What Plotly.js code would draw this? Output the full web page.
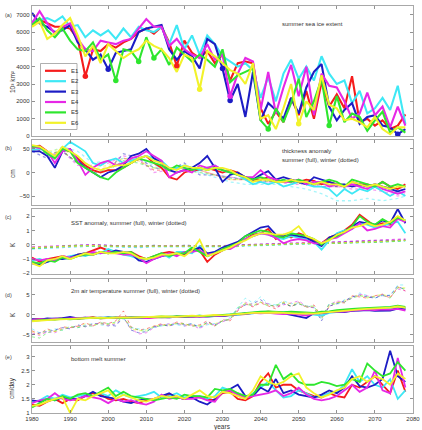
<!DOCTYPE html>
<html>
<head>
<meta charset="utf-8">
<script src="https://cdn.plot.ly/plotly-3.0.1.min.js"></script>
<style>
  html, body { margin: 0; padding: 0; background: #fff; }
  #chart { width: 422px; height: 430px; }
</style>
</head>
<body>
<div id="chart"></div>
<script>
// Ensemble members E1..E6, summer values every second year 1980-2078
const years = Array.from({length: 50}, (_, i) => 1980 + 2 * i);
// winter (dotted) curves of thickness and SST, every fourth year
const winterYears = [...Array.from({length: 25}, (_, i) => 1980 + 4 * i), 2078];

const members = ['E1', 'E2', 'E3', 'E4', 'E5', 'E6'];
const colors = ['#f51c1c', '#3ee8f5', '#1c1cc4', '#e628e6', '#2ee62e', '#f2f22a'];

// (a) summer sea ice extent, 10^3 km^2
const ice1 = [6400, 6700, 6500, 6300, 6300, 6200, 5600, 3450, 5000, 4900, 5300, 5100, 5400, 5600, 6000, 6200, 5900, 6300, 5400, 4050, 5500, 4800, 4500, 4900, 4200, 4700, 3200, 4200, 4300, 4200, 1600, 700, 1400, 800, 2200, 1200, 2600, 1000, 3100, 1700, 2400, 1600, 3450, 800, 1000, 600, 900, 400, 600, 1250];
const ice2 = [6600, 6700, 6800, 6600, 6900, 6300, 6400, 5700, 6100, 5800, 6100, 5600, 6200, 5700, 6300, 6100, 6000, 6300, 5300, 6400, 5000, 5800, 4700, 5800, 5300, 4600, 4300, 4000, 4200, 3800, 2200, 3400, 2000, 3600, 4400, 3300, 4000, 3200, 4600, 3600, 3000, 3200, 1900, 2600, 1300, 1600, 2200, 1500, 2900, 700];
const ice3 = [7100, 6500, 6300, 6000, 6100, 6400, 5400, 5000, 4400, 4700, 3850, 4800, 4900, 5000, 6000, 6200, 6300, 6400, 5000, 4400, 4900, 4600, 3900, 5600, 5300, 3900, 2050, 3000, 1100, 3700, 900, 1900, 1500, 1000, 2200, 1300, 2800, 3700, 4150, 1700, 900, 1500, 1900, 700, 1100, 1200, 600, 500, 100, 400];
const ice4 = [6500, 7200, 6500, 5900, 6300, 6500, 5600, 5000, 4900, 5500, 5400, 5300, 5500, 5600, 6200, 6750, 6300, 6300, 5200, 5600, 5000, 4700, 4500, 5300, 4400, 4700, 2300, 3600, 4500, 4300, 1500, 3700, 1300, 2800, 4100, 2300, 4000, 1200, 3600, 2900, 2800, 2000, 1000, 1300, 2500, 1200, 1700, 500, 1700, 600];
const ice5 = [6400, 6800, 6100, 5700, 6200, 5500, 5000, 4900, 5400, 4400, 4700, 3200, 5000, 4900, 4300, 5700, 4500, 5000, 4100, 5100, 4700, 4300, 4700, 4400, 4000, 5000, 3100, 3500, 3700, 3900, 900, 400, 1600, 800, 1900, 3300, 1100, 2000, 3300, 600, 2300, 800, 1300, 1100, 300, 900, 1400, 200, 500, 200];
const ice6 = [6300, 6600, 5600, 5900, 6400, 6800, 5800, 4600, 5200, 4200, 5300, 4900, 4500, 4800, 5000, 5500, 5200, 5000, 4500, 3700, 4700, 4500, 2700, 4900, 4600, 4200, 3800, 3600, 3000, 4200, 1000, 1200, 400, 1600, 3000, 700, 2000, 1500, 3500, 1800, 1600, 900, 1000, 800, 500, 1100, 400, 100, 500, 500];
// years of new record minima, marked with dots
const recordYears = [[1994, 2018], [], [2000, 2030, 2032, 2076], [2032], [2002, 2008, 2012, 2042, 2058], [2024, 2050]];

// (b) thickness anomaly, cm
const thk1 = [55, 57, 45, 30, 50, 45, 30, 15, 5, 0, 5, 5, 10, 20, 30, 35, 20, 10, -10, -15, 0, 5, 5, 10, 5, 0, 5, 0, -10, -15, -15, -10, -15, -20, -15, -20, -15, -18, -25, -20, -25, -30, -20, -25, -25, -30, -20, -30, -35, -25];
const thk2 = [48, 50, 45, 30, 50, 65, 55, 45, 20, 15, 25, 30, 20, 25, 30, 35, 30, 25, 10, 10, 15, 10, 5, 10, 15, 5, 0, -5, -15, -25, -20, -25, -20, -30, -25, -20, -25, -30, -30, -35, -50, -35, -45, -35, -40, -30, -40, -50, -40, -50];
const thk3 = [45, 45, 35, 10, 45, 50, 25, 10, 0, -10, 0, 5, 15, 35, 40, 50, 30, 20, 5, 0, 5, 10, 20, 35, 10, -20, -5, 0, -10, -15, -5, 3, -15, -10, -15, -20, -25, -10, -15, -20, -25, -25, -30, -25, -30, -25, -30, -35, -40, -35];
const thk4 = [55, 52, 45, 20, 45, 50, 25, -5, 10, 20, 25, 15, 20, 30, 35, 45, 35, 25, -10, 0, 5, 0, 15, 10, 15, 5, 0, -5, -10, -10, 5, -10, -15, -20, -20, -15, -25, -20, -20, -30, -25, -30, -25, -30, -35, -25, -35, -40, -45, -40];
const thk5 = [55, 55, 40, 30, 50, 45, 20, 10, 0, -10, -15, 0, 10, 20, 30, 25, 20, 15, 5, 15, 10, 5, 10, 5, 10, 5, 0, -5, -10, -15, -10, -15, -20, -15, -20, -15, -20, -25, -20, -15, -20, -30, -15, -20, -25, -30, -20, -30, -25, -30];
const thk6 = [58, 55, 45, 35, 55, 45, 35, 20, 10, 5, 10, 15, 15, 20, 30, 35, 25, 20, 10, 5, 15, 10, 10, 5, 10, 10, 5, -5, -10, -20, -15, -15, -20, -20, -15, -20, -20, -25, -20, -25, -25, -30, -20, -25, -30, -25, -30, -35, -30, -30];
const thkW1 = [55, 40, 45, 20, 5, 10, 30, 25, 5, 5, 10, 5, -5, -15, -15, -15, -20, -20, -25, -25, -30, -25, -30, -30, -35, -30];
const thkW2 = [50, 40, 55, 45, 20, 25, 30, 30, 15, 10, 10, 0, -10, -20, -25, -25, -25, -30, -35, -45, -60, -60, -55, -60, -55, -50];
const thkW3 = [45, 30, 45, 20, 0, 5, 40, 30, 10, 5, 20, -5, -5, -10, -15, -20, -20, -20, -25, -30, -30, -30, -30, -35, -40, -35];
const thkW4 = [55, 35, 45, 15, 15, 20, 35, 30, 0, 5, 10, 5, -5, -10, -15, -20, -20, -25, -25, -30, -30, -35, -35, -40, -50, -45];
const thkW5 = [55, 40, 45, 20, 0, 5, 25, 20, 10, 8, 5, 0, -5, -12, -15, -18, -18, -20, -20, -25, -25, -25, -25, -30, -30, -30];
const thkW6 = [58, 45, 50, 30, 10, 15, 30, 25, 10, 8, 8, 5, -5, -15, -15, -18, -20, -22, -22, -25, -28, -28, -30, -32, -30, -30];

// (c) SST anomaly, K
const sst1 = [-0.9, -1.2, -1.0, -0.9, -0.8, -0.9, -0.7, -0.6, -0.4, -0.2, -0.4, -0.5, -0.6, -0.5, -0.8, -1.0, -0.8, -0.6, -0.5, -0.6, -0.7, -0.3, -0.4, -1.2, -0.7, -0.4, -0.1, 0.1, 0.4, 0.7, 0.8, 1.1, 0.4, 0.7, 0.5, 0.8, 0.6, 0.3, 0.1, 0.5, 0.7, 1.0, 1.4, 2.1, 1.7, 1.3, 1.5, 1.4, 1.9, 1.6];
const sst2 = [-1.1, -1.0, -1.2, -1.1, -0.9, -0.8, -0.7, -0.8, -0.6, -0.6, -0.3, -0.5, -0.7, -0.8, -1.0, -1.0, -0.9, -0.6, -0.9, -0.5, -0.5, -0.6, -0.1, -0.7, -0.5, -0.4, -0.2, 0.0, 0.4, 0.6, 0.8, 0.7, 0.5, 0.4, 0.6, 0.5, 0.4, 0.2, -0.35, 0.3, 0.8, 1.0, 1.1, 1.5, 1.4, 1.2, 1.3, 1.5, 1.6, 0.8];
const sst3 = [-1.3, -1.4, -1.2, -1.0, -1.0, -0.9, -0.7, -0.6, -0.7, -0.5, -0.6, -0.4, -0.5, -0.6, -1.1, -1.2, -1.0, -0.8, -0.7, -0.7, -0.6, -0.4, -0.2, -0.6, -0.5, -0.2, 0.0, 0.2, 0.6, 0.9, 1.2, 1.3, 0.7, 0.6, 0.7, 0.6, 0.5, 0.2, -0.1, 0.5, 0.7, 0.9, 1.3, 1.6, 1.5, 1.4, 1.7, 1.5, 2.5, 1.5];
const sst4 = [-1.0, -1.1, -1.0, -1.1, -0.8, -0.9, -0.8, -0.7, -0.5, -0.6, -0.5, -0.6, -0.7, -0.7, -0.9, -1.3, -1.0, -0.8, -0.6, -0.8, -0.5, -0.5, -0.4, -0.7, -0.6, -0.3, -0.3, 0.0, 0.4, 0.6, 0.8, 0.7, 0.5, 0.1, 0.3, 0.4, 0.3, 0.1, 0.1, 0.4, 0.5, 0.8, 1.1, 1.5, 1.0, 1.1, 1.3, 1.2, 1.8, 1.6];
const sst5 = [-1.2, -1.3, -1.1, -1.2, -0.9, -1.0, -0.8, -0.7, -0.7, -0.5, -0.6, -0.5, -0.6, -0.5, -0.9, -1.0, -0.8, -0.6, -0.8, -0.6, -0.6, -0.2, -0.5, -0.8, -0.6, -0.3, -0.1, 0.1, 0.6, 0.8, 1.0, 0.9, 0.6, 0.5, 0.8, 0.7, 0.6, 0.4, 0.0, 0.4, 0.6, 0.9, 1.3, 2.0, 1.6, 1.4, 1.8, 1.5, 1.9, 1.7];
const sst6 = [-1.3, -1.5, -1.1, -1.0, -0.8, -1.0, -0.8, -0.6, -0.7, -0.5, -0.6, -0.6, -0.5, -0.6, -0.9, -1.0, -0.9, -0.7, -0.7, -0.6, -0.8, -0.4, 0.35, -0.8, -0.6, -0.4, -0.2, 0.1, 0.3, 0.6, 0.8, 0.8, 0.7, 0.7, 0.9, 1.3, 0.6, 0.4, 0.1, 0.3, 0.7, 0.9, 1.2, 1.3, 1.5, 1.3, 1.4, 1.6, 2.0, 1.7];
const sstW1 = [-0.25, -0.2, -0.1, -0.05, -0.05, -0.1, -0.15, -0.15, -0.1, -0.1, -0.1, -0.15, -0.15, -0.1, -0.05, 0.0, 0.0, 0.05, 0.1, 0.1, 0.12, 0.15, 0.2, 0.22, 0.3, 0.3];
const sstW2 = [-0.3, -0.25, -0.15, -0.1, -0.1, -0.15, -0.2, -0.2, -0.15, -0.15, -0.15, -0.2, -0.2, -0.15, -0.1, -0.05, 0.0, 0.05, 0.05, 0.1, 0.1, 0.1, 0.15, 0.2, 0.25, 0.25];
const sstW3 = [-0.2, -0.15, -0.05, 0.0, 0.0, -0.05, -0.1, -0.1, -0.05, -0.1, -0.05, -0.1, -0.1, -0.05, 0.0, 0.0, 0.05, 0.1, 0.1, 0.15, 0.15, 0.2, 0.25, 0.3, 0.3, 0.35];
const sstW4 = [-0.15, -0.1, -0.05, 0.0, 0.0, -0.05, -0.1, -0.1, -0.1, -0.05, -0.1, -0.1, -0.1, -0.05, 0.0, 0.05, 0.05, 0.1, 0.15, 0.15, 0.2, 0.25, 0.3, 0.35, 0.4, 0.4];
const sstW5 = [-0.25, -0.2, -0.1, -0.05, -0.1, -0.1, -0.15, -0.15, -0.15, -0.1, -0.1, -0.15, -0.15, -0.1, -0.05, -0.05, 0.0, 0.05, 0.05, 0.1, 0.1, 0.15, 0.15, 0.2, 0.25, 0.3];
const sstW6 = [-0.2, -0.15, -0.1, -0.05, -0.05, -0.1, -0.1, -0.15, -0.1, -0.1, -0.1, -0.1, -0.15, -0.1, -0.05, 0.0, 0.0, 0.05, 0.1, 0.1, 0.1, 0.15, 0.2, 0.25, 0.3, 0.3];

// (d) 2m air temperature anomaly, K
const t2m1 = [-1.2, -1.0, -1.0, -1.1, -0.9, -0.8, -1.0, -0.8, -0.6, -0.9, -0.8, -0.7, -0.6, -0.8, -0.7, -0.8, -0.6, -0.6, -0.5, -0.4, -0.4, -0.5, -0.3, -0.4, -0.2, -0.2, 0.0, 0.1, 0.2, 0.5, 0.6, 0.8, 0.7, 0.5, 0.6, 0.5, 0.4, 0.2, 0.5, 0.6, 0.8, 1.0, 1.1, 1.2, 1.4, 1.5, 1.4, 1.6, 1.8, 1.6];
const t2m2 = [-1.4, -1.2, -1.1, -0.9, -1.0, -0.9, -0.8, -0.9, -0.7, -0.6, -0.7, -0.8, -0.7, -0.6, -0.8, -0.6, -0.5, -0.6, -0.4, -0.5, -0.3, -0.4, -0.2, -0.5, -0.3, -0.1, 0.1, 0.0, 0.3, 0.4, 0.7, 0.6, 0.5, 0.6, 0.4, 0.5, 0.3, 0.1, -0.2, 0.5, 0.7, 0.9, 1.2, 1.3, 1.5, 1.6, 1.6, 1.7, 2.0, 1.7];
const t2m3 = [-1.1, -1.2, -0.9, -1.0, -0.8, -0.5, -0.9, -0.7, -0.8, -0.8, -0.6, -0.8, -0.7, -0.6, -0.7, -0.7, -0.5, -0.6, -0.6, -0.5, -0.5, -0.3, -0.4, -0.3, -0.2, -0.3, 0.0, 0.2, 0.3, 0.4, 0.6, 0.7, 0.6, 0.4, 0.0, -0.4, -0.8, 0.5, 0.4, 0.7, 0.8, 0.7, 1.0, 1.1, 1.2, 1.0, 1.0, 1.1, 1.6, 1.3];
const t2m4 = [-1.3, -1.1, -1.2, -0.9, -1.0, -0.9, -0.8, -0.7, -0.8, -0.7, -0.8, -0.6, -0.7, -0.7, -0.6, -0.8, -0.6, -0.5, -0.6, -0.4, -0.5, -0.4, -0.3, -0.4, -0.3, -0.2, 0.0, 0.2, 0.3, 0.5, 0.4, 0.5, 0.3, 0.2, 0.3, 0.0, -0.2, 0.3, 0.5, 0.6, 0.9, 0.8, 1.1, 1.2, 1.3, 1.2, 1.4, 1.3, 1.5, 1.1];
const t2m5 = [-1.5, -1.3, -1.2, -1.2, -1.0, -1.1, -0.9, -0.8, -0.7, -0.9, -0.7, -0.6, -0.8, -0.6, -0.6, -0.6, -0.5, -0.4, -0.5, -0.3, -0.4, -0.3, -0.2, -0.3, -0.1, 0.0, 0.1, 0.3, 0.4, 0.6, 0.8, 0.9, 0.8, 0.7, 0.8, 0.7, 0.6, 0.5, 0.8, 0.9, 1.2, 1.4, 1.5, 1.6, 1.7, 1.8, 1.9, 2.0, 2.3, 2.0];
const t2m6 = [-1.6, -1.4, -1.3, -1.2, -1.1, -1.0, -1.0, -0.9, -0.8, -0.7, -0.8, -0.7, -0.6, -0.7, -0.6, -0.5, -0.5, -0.4, -0.4, -0.5, -0.3, -0.2, -0.3, -0.2, 0.0, -0.1, 0.1, 0.2, 0.3, 0.5, 0.5, 0.6, 0.6, 0.5, 0.4, 0.3, 0.4, 0.3, 0.5, 0.7, 0.9, 1.1, 1.3, 1.4, 1.5, 1.6, 1.7, 1.8, 2.1, 1.8];
const t2mW1 = [-4.0, -4.8, -3.5, -4.2, -3.0, -3.2, -2.8, -2.0, -2.8, -1.8, -2.2, -1.5, 1.0, -3.0, -3.8, -3.5, -2.8, -2.2, -2.8, -1.8, -2.2, -2.8, -2.5, -1.5, -2.8, -1.2, -1.5, 1.0, 2.8, 2.0, 3.0, 2.2, 1.5, 3.2, 2.0, 3.2, 1.8, 2.5, -0.5, 2.0, 3.2, 3.0, 4.8, 4.5, 4.2, 4.8, 5.2, 4.2, 7.0, 6.0];
const t2mW2 = [-3.5, -4.5, -4.0, -3.5, -3.8, -2.8, -3.2, -2.5, -2.2, -2.5, -2.8, -2.2, -1.0, -3.2, -3.5, -3.8, -3.2, -2.8, -2.2, -2.5, -2.8, -2.2, -3.0, -2.5, -2.2, -1.8, -0.5, 2.0, 4.2, 3.0, 4.5, 2.8, 2.5, 3.5, 2.8, 3.0, 2.2, 2.0, -1.2, 2.8, 2.5, 3.8, 4.2, 5.5, 4.8, 4.2, 4.8, 5.0, 7.5, 7.5];
const t2mW3 = [-5.0, -4.5, -4.2, -3.8, -3.2, -3.5, -2.5, -3.0, -2.2, -2.2, -2.5, -2.8, -0.5, -3.8, -4.5, -4.2, -3.0, -2.5, -2.8, -2.2, -2.5, -2.2, -3.2, -1.8, -2.5, -1.5, -1.2, 1.5, 2.5, 2.8, 3.8, 2.5, 2.2, 2.8, 2.2, 2.8, 2.0, 1.8, -1.5, 2.2, 2.8, 3.5, 4.5, 5.0, 4.5, 4.2, 5.0, 4.8, 7.2, 6.2];
const t2mW4 = [-4.5, -5.2, -4.2, -4.5, -3.5, -3.2, -3.0, -2.8, -2.5, -2.0, -2.8, -2.2, -0.8, -3.5, -4.8, -4.5, -3.2, -2.5, -2.2, -2.0, -2.8, -2.5, -3.5, -2.2, -2.5, -1.8, -1.0, 1.2, 3.2, 2.2, 3.2, 2.8, 1.8, 2.5, 3.0, 3.5, 2.2, 1.8, -1.0, 2.5, 3.5, 3.2, 4.2, 5.2, 4.8, 4.5, 4.8, 4.5, 6.5, 6.0];
const t2mW5 = [-5.5, -5.8, -4.5, -4.0, -3.8, -3.0, -3.2, -2.8, -2.8, -2.0, -2.2, -1.8, -0.5, -3.2, -3.8, -4.2, -3.0, -2.8, -2.5, -2.2, -2.2, -2.8, -2.8, -2.0, -2.8, -1.5, -1.0, 1.8, 2.8, 2.2, 3.2, 2.2, 2.5, 3.0, 2.2, 2.8, 2.2, 2.2, -0.8, 2.8, 3.0, 3.2, 4.2, 4.8, 4.5, 4.5, 5.0, 4.2, 6.8, 6.5];
const t2mW6 = [-4.2, -5.0, -3.8, -4.2, -3.5, -3.0, -3.0, -2.2, -2.5, -2.2, -2.5, -2.0, -0.5, -3.5, -4.0, -3.8, -2.8, -2.5, -2.5, -2.0, -2.5, -2.5, -2.8, -2.2, -2.2, -1.5, -1.2, 1.2, 3.0, 2.5, 3.2, 2.5, 2.0, 3.2, 2.8, 3.0, 2.0, 2.0, -1.0, 2.2, 3.0, 3.5, 4.5, 5.0, 4.2, 4.8, 5.2, 4.5, 7.0, 6.8];

// (e) summer bottom melt, cm/day
const melt1 = [1.3, 1.25, 1.4, 1.5, 1.35, 1.5, 1.45, 1.6, 1.7, 1.65, 1.5, 1.45, 1.5, 1.4, 1.35, 1.45, 1.5, 1.6, 1.65, 1.55, 1.5, 1.6, 1.55, 1.5, 1.45, 1.7, 1.75, 1.5, 1.45, 1.6, 2.1, 2.4, 1.9, 2.0, 2.0, 1.8, 1.7, 1.6, 1.55, 1.7, 1.6, 1.55, 2.0, 1.9, 2.1, 2.3, 2.0, 1.7, 2.5, 1.75];
const melt2 = [1.4, 1.45, 1.6, 1.5, 1.65, 1.55, 1.6, 1.65, 1.6, 1.7, 1.6, 1.8, 1.65, 1.55, 1.6, 1.65, 1.75, 1.55, 1.6, 1.7, 1.55, 1.6, 1.6, 1.5, 1.6, 1.9, 1.8, 1.7, 1.55, 1.7, 1.9, 2.1, 1.8, 1.55, 1.6, 1.8, 1.7, 1.55, 1.6, 1.7, 1.75, 2.0, 2.55, 2.1, 2.3, 2.0, 1.9, 2.2, 1.5, 1.8];
const melt3 = [1.45, 1.4, 1.5, 1.45, 1.55, 1.5, 1.5, 1.6, 1.75, 1.6, 1.55, 1.5, 1.4, 1.35, 1.45, 1.5, 1.45, 1.6, 1.7, 1.55, 1.5, 1.55, 1.4, 1.3, 1.5, 1.75, 1.85, 2.0, 1.6, 1.6, 1.9, 1.75, 2.2, 1.7, 1.8, 1.65, 1.6, 1.55, 1.65, 1.8, 1.7, 1.9, 2.3, 1.95, 1.9, 2.0, 2.2, 3.2, 2.3, 2.1];
const melt4 = [1.35, 1.45, 1.5, 1.7, 1.5, 1.45, 1.5, 1.6, 1.55, 1.5, 1.35, 1.5, 1.4, 1.45, 1.35, 1.3, 1.4, 1.65, 1.5, 1.55, 1.5, 1.5, 1.55, 1.45, 1.4, 1.75, 1.8, 1.65, 1.55, 1.6, 1.65, 1.7, 1.8, 1.6, 1.7, 1.9, 1.65, 1.5, 1.45, 1.5, 1.6, 1.8, 2.0, 1.75, 1.9, 2.5, 1.8, 1.7, 2.95, 1.9];
const melt5 = [1.2, 1.35, 1.5, 1.45, 1.6, 1.5, 1.65, 1.7, 1.6, 1.75, 1.9, 1.6, 1.75, 1.6, 1.55, 1.5, 1.45, 1.5, 1.55, 1.5, 1.65, 1.6, 1.6, 1.55, 1.85, 1.8, 1.85, 1.7, 1.6, 1.65, 2.0, 2.0, 2.7, 2.2, 2.4, 2.1, 2.0, 2.0, 2.1, 2.05, 1.95, 2.0, 2.2, 2.1, 2.75, 2.5, 2.3, 2.4, 2.8, 2.5];
const melt6 = [1.25, 1.3, 1.4, 1.5, 1.55, 1.0, 1.5, 1.45, 1.6, 1.7, 1.8, 1.5, 1.65, 1.55, 1.45, 1.4, 1.5, 1.6, 1.55, 1.6, 1.5, 1.65, 1.8, 1.6, 1.55, 1.75, 1.7, 1.6, 1.5, 1.8, 2.3, 2.1, 2.0, 2.1, 2.3, 2.4, 1.9, 1.7, 1.55, 1.65, 1.8, 1.9, 2.2, 2.3, 2.1, 2.3, 2.2, 2.0, 2.4, 2.2];

const iceTicks = [0, 1000, 2000, 3000, 4000, 5000, 6000, 7000];
const thkTicks = [-50, 0, 50];
const sstTicks = [-2, -1, 0, 1, 2];
const t2mTicks = [-5, 0, 5];
const meltTicks = [1, 1.5, 2, 2.5, 3];
const yearTicks = [1980, 1990, 2000, 2010, 2020, 2030, 2040, 2050, 2060, 2070, 2080];

// ---- page geometry (pixels) ----
const W = 422, H = 430;
const M = {l: 32, r: 9, t: 6, b: 17};
const plotW = W - M.l - M.r, plotH = H - M.t - M.b;
const px = x => (x - M.l) / plotW;            // pixel -> paper x
const py = y => (H - M.b - y) / plotH;        // pixel -> paper y
// vertical extent of each panel in pixels (top, bottom)
const panelsPx = [[6, 136], [140, 205], [209, 274], [279, 342], [346, 413]];

const FONT = 'Liberation Sans, Arial, Helvetica, sans-serif';
const traces = [];

function axisName(k, letter) { return k === 1 ? letter : letter + k; }

function addLines(k, xs, seriesList, opts) {
  seriesList.forEach((ys, m) => {
    traces.push({
      type: 'scatter', mode: 'lines', x: xs, y: ys,
      xaxis: axisName(k, 'x'), yaxis: axisName(k, 'y'),
      line: Object.assign({color: colors[m], width: 1.8}, opts.line || {}),
      opacity: opts.opacity || 1,
      showlegend: false, hoverinfo: 'skip'
    });
  });
}

const iceSeries = [ice1, ice2, ice3, ice4, ice5, ice6];
addLines(1, years, iceSeries, {line: {width: 2.1}});
// record minima dots
iceSeries.forEach((ys, m) => {
  const xs = recordYears[m];
  if (!xs.length) return;
  traces.push({
    type: 'scatter', mode: 'markers', x: xs, y: xs.map(yr => ys[years.indexOf(yr)]),
    xaxis: 'x', yaxis: 'y', marker: {color: colors[m], size: 5.5},
    showlegend: false, hoverinfo: 'skip'
  });
});

addLines(2, winterYears, [thkW1, thkW2, thkW3, thkW4, thkW5, thkW6], {line: {width: 1.3, dash: 'dot'}, opacity: 0.45});
addLines(2, years, [thk1, thk2, thk3, thk4, thk5, thk6], {});
addLines(3, winterYears, [sstW1, sstW2, sstW3, sstW4, sstW5, sstW6], {line: {width: 1.3, dash: 'dot'}, opacity: 0.7});
addLines(3, years, [sst1, sst2, sst3, sst4, sst5, sst6], {});
addLines(4, years, [t2mW1, t2mW2, t2mW3, t2mW4, t2mW5, t2mW6], {line: {width: 0.9, dash: 'dot'}, opacity: 0.6});
addLines(4, years, [t2m1, t2m2, t2m3, t2m4, t2m5, t2m6], {});
addLines(5, years, [melt1, melt2, melt3, melt4, melt5, melt6], {});

const layout = {
  width: W, height: H,
  margin: M,
  paper_bgcolor: '#ffffff', plot_bgcolor: '#ffffff',
  font: {family: FONT, size: 6, color: '#333'},
  showlegend: false,
  annotations: [], shapes: []
};

const yRanges = [[0, 7500], [-69, 69], [-2.05, 2.5], [-6.8, 9], [1, 3.37]];
const yTickSets = [iceTicks, thkTicks, sstTicks, t2mTicks, meltTicks];

for (let k = 1; k <= 5; k++) {
  const [top, bot] = panelsPx[k - 1];
  const common = {
    showline: true, linecolor: '#a8a8a8', linewidth: 1.2, mirror: 'ticks',
    ticks: 'inside', ticklen: 3, tickcolor: '#777', tickwidth: 0.8,
    showgrid: false, zeroline: false, fixedrange: true,
    tickfont: {family: FONT, size: 6, color: '#333'}
  };
  layout[k === 1 ? 'xaxis' : 'xaxis' + k] = Object.assign({}, common, {
    anchor: axisName(k, 'y'), domain: [0, 1], range: [1980, 2080],
    tickmode: 'array', tickvals: yearTicks, showticklabels: k === 5
  });
  layout[k === 1 ? 'yaxis' : 'yaxis' + k] = Object.assign({}, common, {
    anchor: axisName(k, 'x'), domain: [py(bot), py(top)], range: yRanges[k - 1],
    tickmode: 'array', tickvals: yTickSets[k - 1]
  });
}

function note(text, x, y, o) {
  layout.annotations.push(Object.assign({
    text, xref: 'paper', yref: 'paper', x: px(x), y: py(y),
    xanchor: 'left', yanchor: 'middle', showarrow: false,
    font: {family: FONT, size: 6, color: '#333'}
  }, o || {}));
}

// panel letters
[['(a)', 15], ['(b)', 148], ['(c)', 217.5], ['(d)', 295], ['(e)', 357]].forEach(([t, y]) => note(t, 3, y, {font: {family: FONT, size: 5.5, color: '#444'}}));

// axis titles
const yTitles = [['10³ km²', 82], ['cm', 174], ['K', 245], ['K', 315], ['cm/day', 388]];
yTitles.forEach(([t, y]) => note(t, 12, y, {xanchor: 'center', textangle: -90, font: {family: FONT, size: 6.5, color: '#333'}}));
note('years', 222, 426.5, {xanchor: 'center', font: {family: FONT, size: 6.5, color: '#333'}});

// panel captions
note('summer sea ice extent', 280, 24);
note('thickness anomaly', 280, 150.5);
note('summer (full), winter (dotted)', 280, 159.5);
note('SST anomaly, summer (full), winter (dotted)', 69, 223);
note('2m air temperature summer (full), winter (dotted)', 69, 291);
note('bottom melt summer', 69, 359);

// legend box for the ensemble members
layout.shapes.push({type: 'rect', xref: 'paper', yref: 'paper', layer: 'above',
  x0: px(40.5), x1: px(77), y0: py(129.5), y1: py(63.5),
  fillcolor: '#ffffff', line: {color: '#9a9a9a', width: 0.8}});
members.forEach((name, m) => {
  const y = 70.8 + m * 10.4;
  layout.shapes.push({type: 'line', xref: 'paper', yref: 'paper', layer: 'above',
    x0: px(45), x1: px(66), y0: py(y), y1: py(y), line: {color: colors[m], width: 2.2}});
  note(name, 68.5, y, {font: {family: FONT, size: 6, color: '#333'}});
});

Plotly.newPlot('chart', traces, layout, {staticPlot: true, displayModeBar: false});
</script>
</body>
</html>
